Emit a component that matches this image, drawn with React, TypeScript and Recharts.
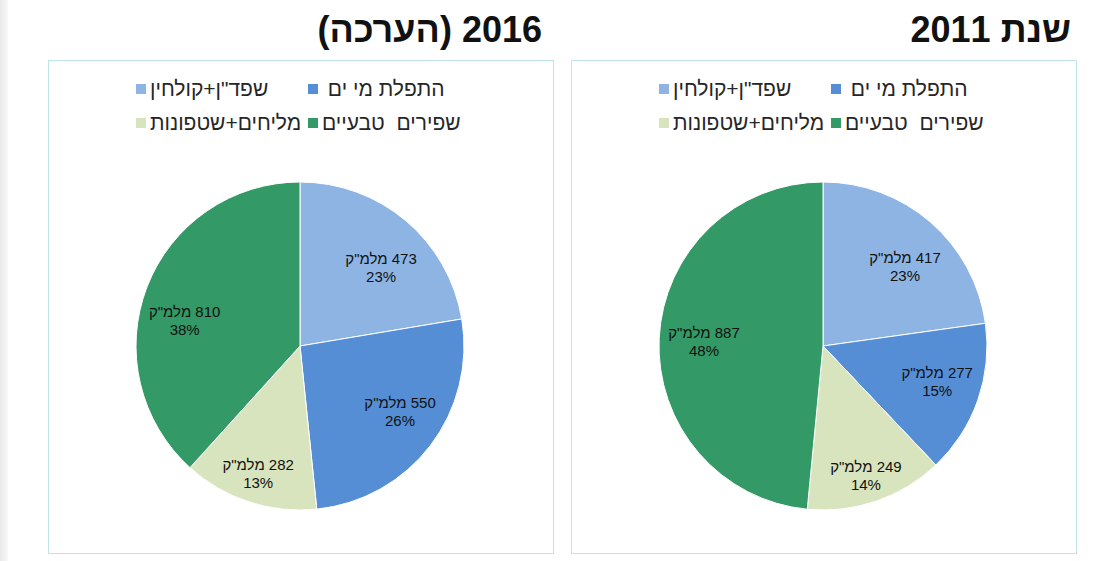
import { PieChart, Pie, Cell } from "recharts";

/* data (million m³) */
const categories = ['שפד"ן+קולחין', "התפלת מי ים ", "מליחים+שטפונות", "שפירים  טבעיים"];
const colors = ["#8EB4E3", "#558ED5", "#D7E4BD", "#339966"];

const values2016 = [473, 550, 282, 810];
const percents2016 = ["23%", "26%", "13%", "38%"];

const values2011 = [417, 277, 249, 887];
const percents2011 = ["23%", "15%", "14%", "48%"];

const unit = 'מלמ"ק';

// label placement (Excel "best fit"): share of radius + small clockwise nudge in degrees
const labelRadius2016 = [0.69, 0.73, 0.82, 0.72];
const labelNudge2016 = [5.5, -4, 0, -8.7];
const labelRadius2011 = [0.695, 0.73, 0.83, 0.726];
const labelNudge2011 = [5, -1.8, 0.6, -0.8];

const FONT = '"Liberation Sans", Arial, sans-serif';
const RADIAN = Math.PI / 180;

type PanelProps = {
  left: number;
  title: string;
  titleRight: number;
  values: number[];
  percents: string[];
  labelRadius: number[];
  labelNudge: number[];
};

function Legend2x2() {
  return (
    <div>
      {categories.map((name, i) => {
        const col = i % 2;
        const row = Math.floor(i / 2);
        return (
          <div
            key={name}
            style={{
              position: "absolute",
              left: 87 + col * 172,
              top: 18 + row * 34,
              height: 20,
              display: "flex",
              alignItems: "center",
              fontFamily: FONT,
              fontSize: 21,
              color: "#262626",
              whiteSpace: "pre",
            }}
          >
            <span
              style={{
                display: "inline-block",
                width: 10,
                height: 10,
                background: colors[i],
                marginRight: 4,
              }}
            />
            <span dir="rtl">{name}</span>
          </div>
        );
      })}
    </div>
  );
}

function PiePanel({ left, title, titleRight, values, percents, labelRadius, labelNudge }: PanelProps) {
  const data = categories.map((name, i) => ({ name, value: values[i] }));

  const renderLabel = (props: any) => {
    const { cx, cy, midAngle, outerRadius, index } = props;
    const r = outerRadius * labelRadius[index];
    const a = (midAngle - labelNudge[index]) * RADIAN;
    const x = cx + r * Math.cos(-a);
    const y = cy + r * Math.sin(-a);
    return (
      <text
        x={x}
        y={y}
        textAnchor="middle"
        direction="rtl"
        style={{ direction: "rtl", unicodeBidi: "embed" }}
        fontFamily={FONT}
        fontSize={15}
        fill="#111"
      >
        <tspan x={x} y={y - 9} dominantBaseline="central">
          {`${values[index]} ${unit}`}
        </tspan>
        <tspan x={x} y={y + 9} dominantBaseline="central">
          {percents[index]}
        </tspan>
      </text>
    );
  };

  return (
    <>
      <div
        dir="rtl"
        style={{
          position: "absolute",
          left: titleRight - 300,
          width: 300,
          top: 12,
          lineHeight: "36px",
          fontFamily: FONT,
          fontWeight: "bold",
          fontSize: 36,
          color: "#111",
          textAlign: "right",
          whiteSpace: "nowrap",
        }}
      >
        {title}
      </div>
      <div
        style={{
          position: "absolute",
          left,
          top: 60,
          width: 506,
          height: 494,
          boxSizing: "border-box",
          border: "1px solid #BFE3EA",
          background: "#fff",
        }}
      >
        <Legend2x2 />
        <PieChart width={504} height={492} margin={{ top: 0, right: 0, bottom: 0, left: 0 }}>
          <Pie
            data={data}
            dataKey="value"
            nameKey="name"
            cx={251}
            cy={285}
            outerRadius={164}
            startAngle={90}
            endAngle={-270}
            stroke="#fff"
            strokeWidth={1}
            label={renderLabel}
            labelLine={false}
            isAnimationActive={false}
          >
            {data.map((d, i) => (
              <Cell key={d.name} fill={colors[i]} />
            ))}
          </Pie>
        </PieChart>
      </div>
    </>
  );
}

export default function App() {
  return (
    <div
      style={{
        position: "absolute",
        left: 0,
        top: 0,
        width: 1107,
        height: 561,
        background: "#fff",
        overflow: "hidden",
      }}
    >
      <div
        style={{
          position: "absolute",
          left: 0,
          top: 0,
          width: 8,
          height: 561,
          background: "linear-gradient(to right, #e9e9e9, #f8f8f8)",
        }}
      />
      <PiePanel
        left={48}
        title="2016 (הערכה)"
        titleRight={542}
        values={values2016}
        percents={percents2016}
        labelRadius={labelRadius2016}
        labelNudge={labelNudge2016}
      />
      <PiePanel
        left={571}
        title="שנת 2011"
        titleRight={1071}
        values={values2011}
        percents={percents2011}
        labelRadius={labelRadius2011}
        labelNudge={labelNudge2011}
      />
    </div>
  );
}
